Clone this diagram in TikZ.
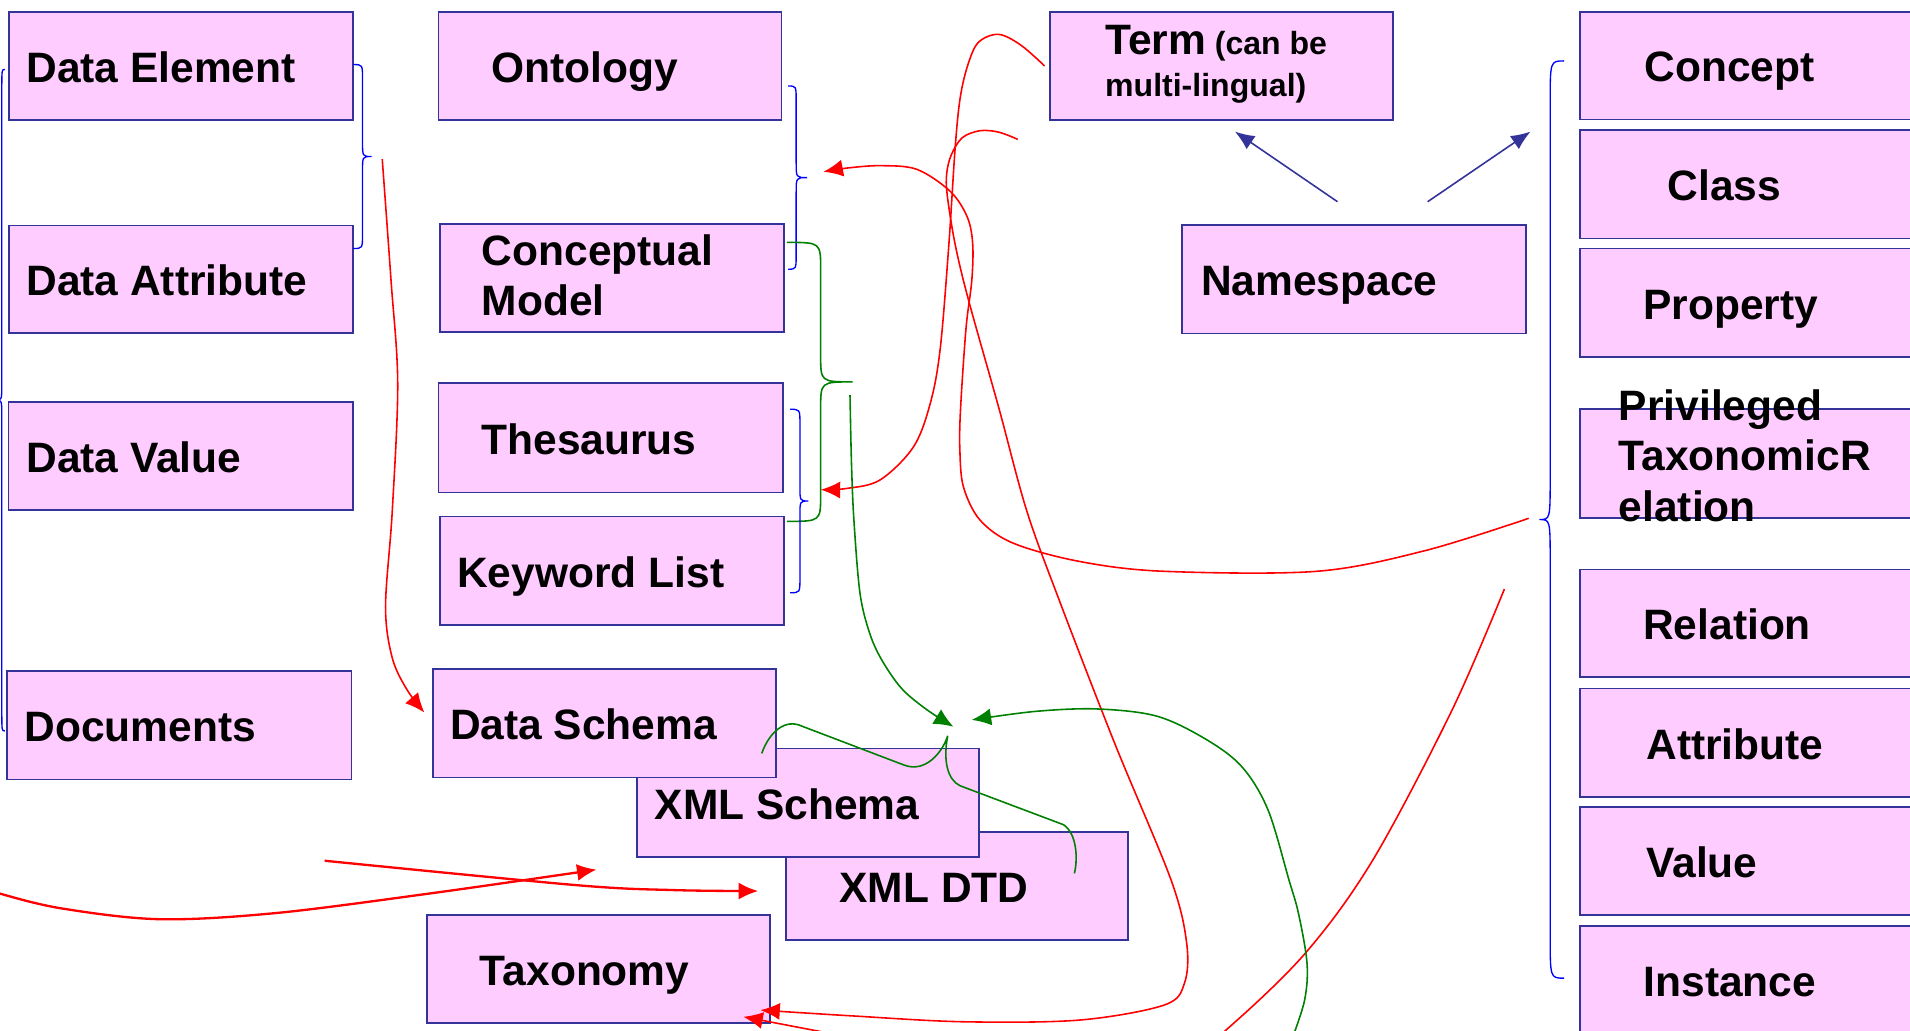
\documentclass[tikz,border=0pt]{standalone}
\usepackage{fontspec}
\setmainfont{Liberation Sans}
\usetikzlibrary{arrows.meta}
\definecolor{boxfill}{HTML}{FFCCFF}
\definecolor{boxline}{HTML}{333399}
\definecolor{navy}{HTML}{333399}
\definecolor{grn}{HTML}{008000}
\definecolor{rd}{HTML}{FF0000}
\definecolor{bl}{HTML}{0000FF}
% #1 x0, #2 ytop, #3 ybot, #4 xv, #5 xt, #6 r, #7 style
\newcommand{\bracedraw}[7]{%
\draw[#7] (#1,#2) .. controls (#4,#2) and (#4,#2) .. (#4,{#2+#6}) -- (#4,{(#2+#3)/2-#6}) .. controls (#4,{(#2+#3)/2}) .. (#5,{(#2+#3)/2}) .. controls (#4,{(#2+#3)/2}) .. (#4,{(#2+#3)/2+#6}) -- (#4,{#3-#6}) .. controls (#4,#3) and (#4,#3) .. (#1,#3);}
\begin{document}
\begin{tikzpicture}[x=1pt,y=-1pt,
  box/.style={draw=boxline, fill=boxfill, line width=1.4pt, anchor=north west, inner sep=0pt, outer sep=0pt, minimum width=282pt, minimum height=89pt},
  rbox/.style={box, minimum width=300pt},
  txt/.style={inner sep=0pt, outer sep=0pt, anchor=base west, font=\bfseries\fontsize{34.9}{41}\selectfont},
  mtxt/.style={inner sep=0pt, outer sep=0pt, anchor=west, align=left, font=\bfseries\fontsize{34.9}{41.5}\selectfont},
  redl/.style={draw=rd, line width=1.3pt},
  redt/.style={draw=rd, line width=1.9pt},
  grnl/.style={draw=grn, line width=1.3pt},
  brc/.style={draw=bl, line width=1.1pt},
  tip/.style={-{Latex[length=16pt,width=14pt]}},
  ntip/.style={-{Latex[length=16pt,width=13pt]}}]
\useasboundingbox (0,0) rectangle (1568,846);
\clip (0,0) rectangle (1568,846);
\fill[white] (0,0) rectangle (1568,846);

% ---------- boxes ----------
\node[box, minimum width=282.5pt] (de) at (7.5,9.6) {};
\node[box, minimum width=282.5pt, minimum height=88.6pt] (da) at (7.5,185) {};
\node[box, minimum width=282.5pt] (dv) at (7,329.8) {};
\node[box, minimum width=282.6pt, minimum height=88.8pt] (doc) at (6,551) {};
\node[box, minimum width=281.5pt] (onto) at (360,9.6) {};
\node[box, minimum width=282.5pt, minimum height=89.2pt] (cm) at (361,183.6) {};
\node[box, minimum width=282.5pt, minimum height=89.5pt] (thes) at (360,314.7) {};
\node[box, minimum width=282.5pt] (kw) at (361,423.9) {};
\node[box, minimum width=280.8pt] (dtd) at (645,682.8) {};
\node[box, minimum width=280.6pt] (xs) at (523,614.4) {};
\node[box, minimum width=281.5pt, minimum height=89.2pt] (ds) at (355.5,549) {};
\node[box, minimum width=281.6pt, minimum height=88.4pt] (tax) at (350.4,751.2) {};
\node[box, minimum width=281.5pt] (term) at (861.9,9.6) {};
\node[box, minimum width=282.1pt] (ns) at (970.4,184.7) {};
\node[rbox, minimum height=88.4pt] (concept) at (1296.8,9.6) {};
\node[rbox] (class) at (1296.8,106.7) {};
\node[rbox] (property) at (1296.8,203.9) {};
\node[rbox, minimum height=89.5pt] (priv) at (1296.8,336) {};
\node[rbox, minimum height=88.6pt] (relation) at (1296.8,467.4) {};
\node[rbox] (attribute) at (1296.8,565.1) {};
\node[rbox] (value) at (1296.8,662.3) {};
\node[rbox] (instance) at (1296.8,760.3) {};

% ---------- texts ----------
\node[txt] (deT) at (21.6,67.6) {Data Element};
\node[txt] (daT) at (21.6,242.8) {Data Attribute};
\node[txt] (dvT) at (21.6,387.8) {Data Value};
\node[txt] (docT) at (20.2,608.9) {Documents};
\node[txt] (ontoT) at (403.3,67.6) {Ontology};
\node[mtxt] (cmT) at (395.5,226) {Conceptual\\Model};
\node[txt] (thesT) at (395.3,373) {Thesaurus};
\node[txt] (kwT) at (375.4,482) {Keyword List};
\node[txt] (dsT) at (369.5,607.1) {Data Schema};
\node[txt] (xsT) at (537.5,672.4) {XML Schema};
\node[txt] (dtdT) at (689.2,740.8) {XML DTD};
\node[txt] (taxT) at (394,808.9) {Taxonomy};
\node[mtxt, font=\bfseries\fontsize{26.3}{34.4}\selectfont] (termT) at (907.3,52.6) {{\fontsize{34.9}{34.4}\selectfont Term} (can be\\multi-lingual)};
\node[txt] (nsT) at (986,242.7) {Namespace};
\node[txt] (conceptT) at (1350,67.3) {Concept};
\node[txt] (classT) at (1369,164.7) {Class};
\node[txt] (propertyT) at (1349,261.9) {Property};
\node[mtxt] (privT) at (1329,374) {Privileged\\TaxonomicR\\elation};
\node[txt] (relationT) at (1349,525.2) {Relation};
\node[txt] (attributeT) at (1351.6,623.1) {Attribute};
\node[txt] (valueT) at (1351.6,720.3) {Value};
\node[txt] (instanceT) at (1349.4,818.3) {Instance};

% ---------- braces ----------
\bracedraw{290}{53}{204}{297.6}{305}{12}{brc}
\bracedraw{647}{70.6}{221}{653.6}{662.6}{12}{brc}
\bracedraw{646}{199}{428}{673.7}{700}{22}{grnl}
\bracedraw{648.6}{336}{486.6}{656.7}{663.6}{12}{brc}
\bracedraw{1284}{50}{803}{1272.6}{1263.7}{35}{brc}
\bracedraw{4}{57}{600}{1.5}{-3}{15}{brc}

% ---------- named end points ----------
\coordinate (aS) at (313.8,130.7);
\coordinate (aE) at (348.4,585);
\coordinate (bS) at (857.6,54.2);
\coordinate (bE) at (673.7,402);
\coordinate (cS) at (1255,425.5);
\coordinate (cE) at (676,141);
\coordinate (dS) at (835.5,114.4);
\coordinate (dE) at (624.2,829.2);
\coordinate (eS) at (1235,483.6);
\coordinate (eE) at (610.2,834.7);
\coordinate (fS) at (-10,729);
\coordinate (fE) at (489.7,713.9);
\coordinate (gS) at (266.5,706.6);
\coordinate (gE) at (622.4,731.5);
\coordinate (hS) at (697.8,324.3);
\coordinate (hE) at (782.7,596.6);
\coordinate (iS) at (1061,852);
\coordinate (iE) at (797.7,591);
\coordinate (jS) at (625.3,618.5);
\coordinate (jE) at (882,717);
\coordinate (n1S) at (1098,165.6);
\coordinate (n1E) at (1013.8,108);
\coordinate (n2S) at (1172,165.6);
\coordinate (n2E) at (1256.5,108);

% ---------- navy arrows ----------
\draw[draw=navy, line width=1.3pt, ntip] (n1S) -- (n1E);
\draw[draw=navy, line width=1.3pt, ntip] (n2S) -- (n2E);

% ---------- red connectors ----------
\draw[redl, tip] plot[smooth, tension=0.55] coordinates {(aS) (321,230) (326.5,315) (322,420) (316.5,498) (322,540) (334,566) (aE)};
\draw[redl, tip] plot[smooth, tension=0.55] coordinates {(bS) (838,37) (819.6,28.2) (803,35) (794,55) (788,82) (784,123) (779,200) (772,285) (764,330) (750,366.7) (722.5,394) (695,401) (bE)};
\draw[redl, tip] plot[smooth, tension=0.55] coordinates {(cS) (1170,452) (1081,469) (955.6,469) (886.7,461) (832,446) (804.6,427) (791,400) (788,370) (788.5,336.6) (793,270) (797.8,230) (798.5,200) (794,178) (780,157) (752.6,139) (722.5,136) (695,138) (cE)};
\draw[redl, tip] plot[smooth, tension=0.55] coordinates {(dS) (820,108.5) (804.6,107.3) (790,113) (781,127) (777.2,142.3) (777.6,160) (784,200) (795,246) (820,335) (842.7,418.7) (868.9,491) (915,610) (961.4,722.5) (974.2,774.5) (972.4,807) (955.9,825) (886.2,837.4) (791,838.8) (700,834) (dE)};
\draw[redl, tip] plot[smooth, tension=0.55] coordinates {(eS) (1192,583) (1127,706) (1071.5,782.6) (1006,846) (960,880) (800,872) (700,852) (671.8,846.5) (eE)};
\draw[redt, tip] plot[smooth, tension=0.55] coordinates {(fS) (0,733.6) (50.3,745.7) (130.7,754.6) (226,749.6) (352,733.6) (fE)};
\draw[redt, tip] plot[smooth, tension=0.55] coordinates {(gS) (472.6,726.6) (553,730.7) (gE)};

% ---------- green connectors ----------
\draw[grnl, tip] plot[smooth, tension=0.55] coordinates {(hS) (699,380) (701,427) (706,487) (714,520) (724,542) (740,565) (760,582) (hE)};
\draw[grnl, tip] plot[smooth, tension=0.55] coordinates {(iS) (1071,821) (1073,790.9) (1066,750) (1058.2,722.5) (1041,665) (1020,630) (991,607.5) (950,588) (900.6,582) (850,584) (iE)};
\draw[grnl] (jS) .. controls (632,600) and (645,590) .. (658,596) -- (742,628) .. controls (760,635) and (774,617) .. (778,604) .. controls (774,625) and (778,640) .. (788,645) -- (873,677) .. controls (884,684) and (885,705) .. (jE);
\end{tikzpicture}
\end{document}
